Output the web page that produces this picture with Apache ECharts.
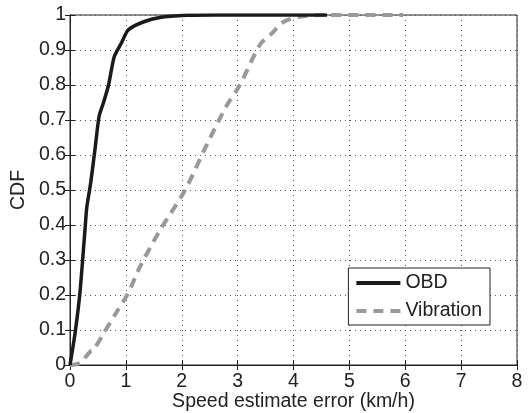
<!DOCTYPE html>
<html><head><meta charset="utf-8">
<script src="https://cdn.jsdelivr.net/npm/echarts@6/dist/echarts.min.js"></script>
<style>html,body{margin:0;padding:0;background:#fff}#c{width:529px;height:413px}</style>
</head><body><div id="c"></div>
<script>
const obdX = [0, 0.09, 0.18, 0.27, 0.30, 0.37, 0.45, 0.52, 0.60, 0.69, 0.79, 0.92, 1.04, 1.31, 1.61, 2.09, 2.6, 3.5, 4.6];
const obdY = [0, 0.09, 0.21, 0.39, 0.45, 0.52, 0.62, 0.71, 0.75, 0.80, 0.88, 0.92, 0.957, 0.98, 0.993, 0.999, 1, 1, 1];
const vibX = [0, 0.18, 0.36, 0.42, 0.60, 0.83, 1.04, 1.25, 1.61, 2.06, 2.45, 2.80, 3.04, 3.40, 3.61, 3.82, 4.11, 4.6, 5.96];
const vibY = [0, 0.006, 0.038, 0.043, 0.09, 0.15, 0.205, 0.28, 0.385, 0.50, 0.63, 0.74, 0.80, 0.915, 0.947, 0.98, 0.995, 1, 1];
const xTicks = [0,1,2,3,4,5,6,7,8];
const yTicks = [0,0.1,0.2,0.3,0.4,0.5,0.6,0.7,0.8,0.9,1];
const seriesNames = ['OBD','Vibration'];

const font = 'Liberation Sans';
const fs = 19.5;
const zip = (a,b) => a.map((v,i)=>[v,b[i]]);
const chart = echarts.init(document.getElementById('c'));
const tickStyle = {show:true, inside:true, length:5, lineStyle:{color:'#222'}};
chart.setOption({
  backgroundColor:'#fff',
  animation:false,
  textStyle:{fontFamily:font},
  grid:{left:70, right:12, top:15, bottom:48, containLabel:false, outerBoundsMode:'none', show:true, borderColor:'#222', borderWidth:1},
  xAxis:[{
    type:'value', min:xTicks[0], max:xTicks[xTicks.length-1], interval:1,
    name:'Speed estimate error (km/h)', nameLocation:'middle', nameGap:27, nameMoveOverlap:false,
    nameTextStyle:{fontSize:fs, color:'#222', fontFamily:font},
    axisLine:{show:true, lineStyle:{color:'#222'}},
    axisTick:tickStyle,
    axisLabel:{fontSize:fs, color:'#222', margin:7, fontFamily:font},
    splitLine:{show:true, lineStyle:{type:[1,4], color:'#555'}}
  },{
    type:'value', min:xTicks[0], max:xTicks[xTicks.length-1], interval:1, position:'top',
    axisLine:{show:true, lineStyle:{color:'#222'}},
    axisTick:tickStyle, axisLabel:{show:false}, splitLine:{show:false}
  }],
  yAxis:[{
    type:'value', min:yTicks[0], max:yTicks[yTicks.length-1], interval:0.1,
    name:'CDF', nameLocation:'middle', nameGap:41, nameMoveOverlap:false,
    nameTextStyle:{fontSize:fs, color:'#222', fontFamily:font},
    axisLine:{show:true, lineStyle:{color:'#222'}},
    axisTick:tickStyle,
    axisLabel:{fontSize:fs, color:'#222', margin:4, fontFamily:font, formatter:v=>String(Math.round(v*10)/10)},
    splitLine:{show:true, lineStyle:{type:[1,4], color:'#555'}}
  },{
    type:'value', min:yTicks[0], max:yTicks[yTicks.length-1], interval:0.1, position:'right',
    axisLine:{show:true, lineStyle:{color:'#222'}},
    axisTick:tickStyle, axisLabel:{show:false}, splitLine:{show:false}
  }],
  legend:{
    right:39, bottom:88, orient:'vertical', itemWidth:44, itemHeight:4, itemGap:8,
    backgroundColor:'#fff', borderColor:'#222', borderWidth:1, padding:[5,8,4,8],
    textStyle:{fontSize:fs, color:'#222', fontFamily:font, lineHeight:20},
    data:[
      {name:seriesNames[0], icon:'path://M0,0H44V4H0Z'},
      {name:seriesNames[1], icon:'path://M0,0H10V4H0Z M17,0H27V4H17Z M34,0H44V4H34Z'}
    ]
  },
  series:[{
    name:seriesNames[1], type:'line', data:zip(vibX,vibY), showSymbol:false, symbol:'none', smooth:0.3,
    lineStyle:{color:'#999', width:4, type:[10,7]}, itemStyle:{color:'#999'}, z:2
  },{
    name:seriesNames[0], type:'line', data:zip(obdX,obdY), showSymbol:false, symbol:'none', smooth:0.2,
    lineStyle:{color:'#1a1a1a', width:3.5}, itemStyle:{color:'#1a1a1a'}, z:3
  }]
});
</script></body></html>
